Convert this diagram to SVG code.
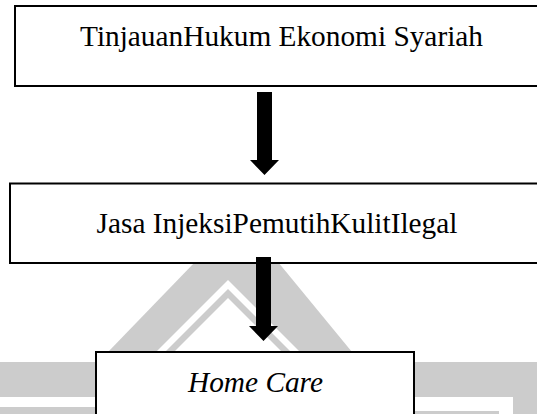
<svg xmlns="http://www.w3.org/2000/svg" width="537" height="414" viewBox="0 0 537 414">
<style>
.box{fill:#ffffff;stroke:#000000;stroke-width:2}
.lbl{font-family:"Liberation Serif","Times New Roman",serif;font-size:29.33px;fill:#000000;text-anchor:middle}
.wm{fill:#cccccc}
.wh{fill:#ffffff}
.arrow{fill:#000000}
</style>
<rect x="0" y="0" width="537" height="414" fill="#ffffff"/>
<g id="watermark">
<polygon class="wm" points="195,262 278,262 352,352 108,352"/>
<polygon class="wh" points="228,280 300,352 156,352"/>
<polygon class="wm" points="228,289 291,352 165,352"/>
<polygon class="wh" points="228,298 282,352 174,352"/>
<rect class="wm" x="0" y="362" width="537" height="35"/>
<rect class="wm" x="0" y="407" width="96" height="7"/>
<rect class="wm" x="513" y="397" width="24" height="17"/>
<rect class="wm" x="415" y="411" width="84" height="3"/>
</g>
<g id="node-1">
<rect class="box" x="15" y="6" width="530" height="80"/>
<text class="lbl" x="281.5" y="46">TinjauanHukum Ekonomi Syariah</text>
</g>
<g id="node-2">
<rect class="box" x="10" y="183.5" width="535" height="79.5"/>
<text class="lbl" x="277" y="233">Jasa InjeksiPemutihKulitIlegal</text>
</g>
<g id="node-3">
<rect class="box" x="96" y="352" width="318" height="80"/>
<text class="lbl" x="255.5" y="392" font-style="italic">Home Care</text>
</g>
<g id="connectors">
<polygon class="arrow" points="257,92 272,92 272,160 279,160 264.5,175 250,160 257,160"/>
<polygon class="arrow" points="256,257 271,257 271,326 278,326 263.5,341 249,326 256,326"/>
</g>
</svg>
